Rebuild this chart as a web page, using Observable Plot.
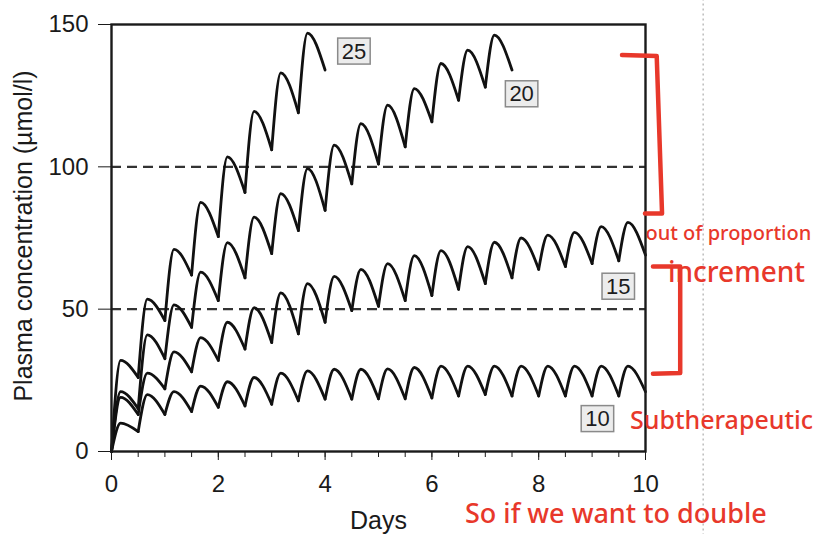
<!DOCTYPE html>
<html><head><meta charset="utf-8">
<script src="https://cdn.jsdelivr.net/npm/d3@7"></script>
<script src="https://cdn.jsdelivr.net/npm/@observablehq/plot@0.6"></script>
<style>body{margin:0;background:#fff}</style>
</head><body><div id="chart"></div>
<script>
// ---- data ----
const doseDays = [0,0.5,1,1.5,2,2.5,3,3.5,4,4.5,5,5.5,6,6.5,7,7.5,8,8.5,9,9.5];
const dosingIntervalDays = 0.5;
const peakLagDays = 0.17;
const doseLabels = ["10", "15", "20", "25"];
// peak concentration after each dose, and the trough reached before the next dose
const peaks10   = [10, 20, 21, 23, 24.5, 26, 27.5, 28.3, 28.9, 28.9, 29, 29.5, 30, 30, 30, 30, 30, 30, 30, 30];
const troughs10 = [7, 13, 14, 15.5, 16, 16.6, 17.8, 18.4, 18.4, 18.5, 18.5, 18.8, 19.5, 20, 19.5, 19.5, 19.5, 19.5, 19.5, 21];
const peaks15   = [19, 27.5, 35, 40, 45.4, 50.5, 55.7, 59, 61.5, 64, 66, 68.8, 70.6, 72, 73.5, 75, 76, 77, 79, 80.5];
const troughs15 = [13, 22, 28, 32, 36, 38.3, 41.3, 45.4, 49.5, 51, 53, 54.8, 57, 59, 61, 64, 65, 66, 67, 69];
const peaks20   = [21, 41, 51.5, 63, 73.4, 82.3, 90.6, 99.4, 107.6, 115.2, 121.7, 127.5, 136.3, 141, 146.3];
const troughs20 = [15, 32.6, 43.6, 53, 61, 69.5, 77.6, 84.7, 94, 101, 107, 115.8, 123.4, 128, 134];
const peaks25   = [32, 53.5, 71, 87.5, 103.5, 119.5, 133, 147];
const troughs25 = [26, 46, 62, 75.5, 91, 106, 119, 134];
const yTicks = [0, 50, 100, 150];
const xTicks = [0, 2, 4, 6, 8, 10];
const xMinorTicks = [0,0.5,1,1.5,2,2.5,3,3.5,4,4.5,5,5.5,6,6.5,7,7.5,8,8.5,9,9.5,10];
const referenceLevels = [50, 100];
// boxed series labels
const labelDays = [9.10, 9.49, 7.68, 4.54];
const labelConc = [11.4, 57.9, 125.5, 140.5];
// handwritten notes
const noteTexts = ["out of proportion", "increment", "Subtherapeutic", "So if we want to double"];
const noteDays = [10.0, 10.42, 9.71, 6.62];
const noteConc = [76.6, 62.6, 10.7, -22.2];
const noteSizes = [20, 28, 25, 27];
const bracketDays = [[9.56, 10.21, 10.31, 9.99], [10.14, 10.65, 10.65, 10.14]];
const bracketConc = [[139.3, 138.9, 83.6, 83.6], [65, 65, 27.6, 27.3]];
const dividerDay = 11.08;

// ---- build table ----
const seriesPeaks = {"10": peaks10, "15": peaks15, "20": peaks20, "25": peaks25};
const seriesTroughs = {"10": troughs10, "15": troughs15, "20": troughs20, "25": troughs25};
const rows = [];
for (const s of doseLabels) {
  const pk = seriesPeaks[s], tr = seriesTroughs[s];
  pk.forEach((p, k) => {
    const id = s + "-" + k;
    rows.push({id, day: doseDays[k], conc: k === 0 ? 0 : tr[k - 1]});
    rows.push({id, day: doseDays[k] + peakLagDays, conc: p});
    rows.push({id, day: doseDays[k] + dosingIntervalDays, conc: tr[k]});
  });
}
const labels = doseLabels.map((s, i) => ({s, day: labelDays[i], conc: labelConc[i]}));
const notes = noteTexts.map((t, i) => ({t, day: noteDays[i], conc: noteConc[i], size: noteSizes[i]}));
const brackets = [];
bracketDays.forEach((ds, b) => ds.forEach((d, i) => brackets.push({b, day: d, conc: bracketConc[b][i]})));

const FONT = "'Liberation Sans', Arial, Helvetica, sans-serif";
const plot = Plot.plot({
  width: 833, height: 534,
  marginLeft: 111, marginRight: 188, marginTop: 24, marginBottom: 83,
  style: {fontFamily: FONT, fontSize: "24px", background: "#fff", color: "#1a1a1a"},
  x: {domain: [0, 10]},
  y: {domain: [0, 150]},
  marks: [
    Plot.ruleX([dividerDay], {y1: 159, y2: -30, stroke: "#bdbdbd", strokeWidth: 1.5, strokeDasharray: "2,3"}),
    Plot.ruleY(referenceLevels, {stroke: "#333", strokeWidth: 2.2, strokeDasharray: "10,6"}),
    Plot.line(rows, {x: "day", y: "conc", z: "id", curve: "monotone-x", stroke: "#111", strokeWidth: 2.8}),
    Plot.frame({stroke: "#1a1a1a", strokeWidth: 2.4}),
    Plot.axisY({ticks: yTicks, tickSize: 13, tickPadding: 10, fontSize: 24, label: null, tickFormat: d => String(d)}),
    Plot.axisX({ticks: xTicks, tickSize: 9, tickPadding: 14, fontSize: 24, label: null, tickFormat: d => String(d)}),
    Plot.axisX({ticks: xMinorTicks, tickSize: 6, label: null, tickFormat: () => ""}),
    Plot.text(["Days"], {frameAnchor: "bottom", dy: 77, fontSize: 25, fill: "#1a1a1a"}),
    Plot.text(["Plasma concentration (\u00b5mol/l)"], {frameAnchor: "left", textAnchor: "middle", dx: -88, dy: -2, rotate: -90, fontSize: 25, fill: "#1a1a1a"}),
    Plot.text(labels, {x: "day", y: "conc", text: "s", fontSize: 22, fill: "rgb(28, 28, 29)"}),
    Plot.line(brackets, {x: "day", y: "conc", z: "b", stroke: "#e8382b", strokeWidth: 4.5, strokeLinejoin: "round", strokeLinecap: "round"}),
    Plot.text(notes, {x: "day", y: "conc", text: "t", textAnchor: "start", fontSize: "size", fill: "#e8382b", fontFamily: "'Noto Sans', sans-serif", fontWeight: 500})
  ]
});
document.getElementById("chart").appendChild(plot);

// draw boxes behind the series labels
const labelSet = new Set(doseLabels);
plot.querySelectorAll("text").forEach(t => {
  const f = getComputedStyle(t).fill;
  if (f !== "rgb(28, 28, 29)" || !labelSet.has(t.textContent)) return;
  const bb = t.getBBox();
  const r = document.createElementNS("http://www.w3.org/2000/svg", "rect");
  const cy = bb.y + bb.height * 0.5;
  r.setAttribute("x", bb.x - 4);
  r.setAttribute("y", cy - 13);
  r.setAttribute("width", bb.width + 8);
  r.setAttribute("height", 26);
  r.setAttribute("fill", "#ececec");
  r.setAttribute("stroke", "#8a8a8a");
  r.setAttribute("stroke-width", 1.5);
  if (t.getAttribute("transform")) r.setAttribute("transform", t.getAttribute("transform"));
  t.parentNode.insertBefore(r, t);
});
</script></body></html>
